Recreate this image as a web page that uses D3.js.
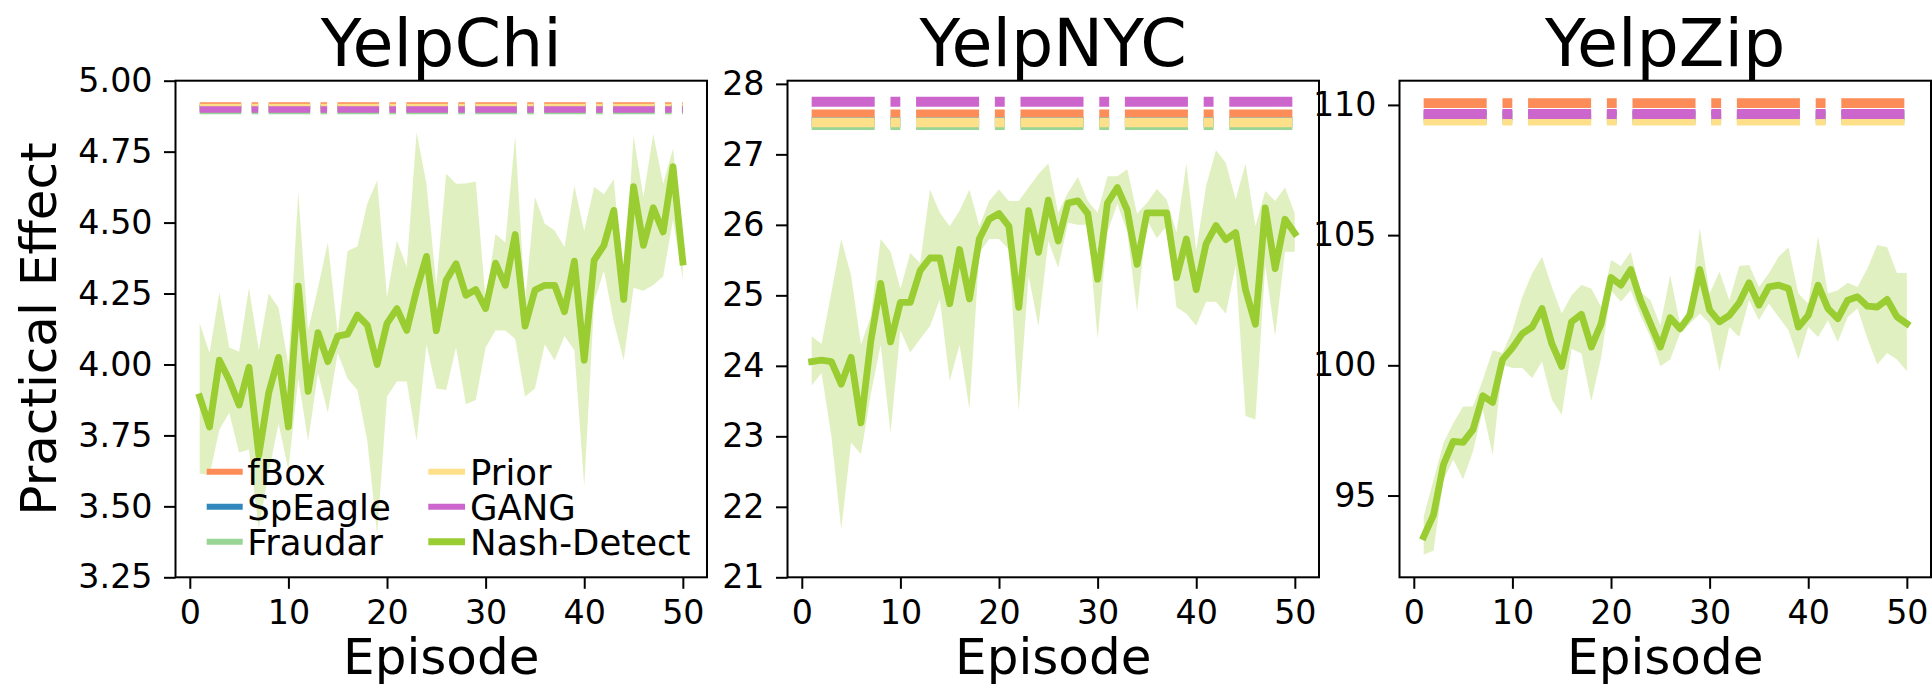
<!DOCTYPE html>
<html>
<head>
<meta charset="utf-8">
<script src="https://cdn.jsdelivr.net/npm/d3@7"></script>
<style>
  html, body { margin: 0; padding: 0; background: #fff; }
  text { font-family: "DejaVu Sans", sans-serif; fill: #000; }
</style>
</head>
<body>
<svg id="chart" width="1932" height="692"></svg>
<script>
// ---------------- DATA ----------------
const datasets = ["YelpChi", "YelpNYC", "YelpZip"];
const baselineNames = ["fBox", "SpEagle", "Fraudar", "Prior", "GANG"];
const methodNames = ["fBox", "SpEagle", "Fraudar", "Prior", "GANG", "Nash-Detect"];

const chiMean = [3.886,3.78,4.015,3.945,3.857,3.99,3.68,3.90,4.025,3.78,4.276,3.905,4.112,4.01,4.10,4.107,4.174,4.139,4.00,4.145,4.197,4.12,4.262,4.381,4.119,4.297,4.355,4.244,4.264,4.197,4.357,4.279,4.458,4.135,4.262,4.279,4.279,4.186,4.364,4.015,4.367,4.42,4.543,4.229,4.627,4.42,4.552,4.467,4.697,4.361];
const chiUpper = [4.145,4.04,4.254,4.06,4.045,4.27,4.05,4.25,4.20,4.00,4.607,4.12,4.27,4.43,4.11,4.40,4.416,4.567,4.648,4.238,4.437,4.344,4.818,4.637,4.28,4.672,4.637,4.638,4.645,4.226,4.46,4.43,4.806,4.22,4.59,4.496,4.472,4.414,4.63,4.47,4.625,4.60,4.654,4.25,4.806,4.59,4.812,4.637,4.76,4.455];
const chiLower = [3.616,3.61,3.77,3.83,3.69,3.70,3.42,3.62,3.79,3.63,3.95,3.73,3.97,3.83,4.04,3.95,3.91,3.73,3.40,3.886,3.94,3.94,3.73,4.07,3.915,3.91,4.06,3.86,3.875,4.06,4.12,4.12,4.09,3.886,3.915,4.07,4.015,4.10,4.05,3.57,4.22,4.33,4.15,4.015,4.27,4.26,4.28,4.31,4.51,4.30];
const chiBase = [4.9127, 4.904, 4.8933, 4.9074, 4.8986];

const nycMean = [24.06,24.08,24.06,23.74,24.12,23.19,24.35,25.17,24.34,24.9,24.9,25.35,25.53,25.53,24.88,25.65,24.95,25.8,26.08,26.16,25.98,24.83,26.2,25.61,26.35,25.77,26.31,26.34,26.16,25.23,26.31,26.53,26.21,25.44,26.17,26.17,26.17,25.25,25.8,25.08,25.73,25.99,25.79,25.89,25.08,24.59,26.24,25.38,26.08,25.88];
const nycUpper = [24.42,24.31,25.04,25.8,25.28,24.3,24.7,25.8,25.62,25.09,25.6,25.46,26.5,26.17,25.98,26.2,26.5,25.98,26.34,26.5,26.34,26.34,26.53,26.72,26.87,26.17,26.46,26.68,26.34,26.17,26.69,26.69,26.79,26.16,26.31,26.51,26.36,25.89,26.87,25.64,26.55,27.06,26.88,26.36,26.87,25.98,26.48,26.34,26.53,26.16];
const nycLower = [23.72,23.9,23.0,21.68,22.91,22.75,23.6,24.3,23.05,24.5,24.19,24.38,24.56,24.94,23.79,24.3,23.38,25.6,25.8,25.8,25.65,23.36,25.27,24.56,25.77,25.39,26.03,26.0,26.0,24.38,25.9,26.3,25.9,24.77,26.07,25.81,25.98,24.83,24.74,24.57,24.91,24.91,24.74,25.42,23.29,23.24,25.42,24.42,25.62,25.62];
const nycBase = [27.567, 27.458, 27.416, 27.454, 27.746];

const zipMean = [93.42,94.26,96.18,97.08,97.04,97.53,98.83,98.58,100.22,100.67,101.22,101.47,102.18,100.83,99.96,101.67,101.96,100.7,101.6,103.37,103.08,103.68,102.5,101.6,100.7,101.83,101.41,101.92,103.68,102.12,101.67,101.92,102.4,103.17,102.31,103.01,103.08,102.95,101.47,101.92,103.08,102.18,101.79,102.5,102.63,102.27,102.24,102.53,101.86,101.6];
const zipUpper = [94.19,95.6,97.01,97.78,98.42,98.42,99.45,100.58,100.47,101.35,102.63,103.53,104.17,103.01,101.99,102.69,103.08,102.95,102.24,104.04,103.81,104.36,102.82,102.5,101.54,103.46,101.6,102.24,105.26,102.76,103.59,102.5,103.81,103.85,103.01,103.53,104.17,104.53,102.76,102.37,104.96,102.76,102.88,103.17,103.01,103.72,104.62,104.53,103.55,103.55];
const zipLower = [92.74,92.88,95.6,96.37,95.63,96.69,98.29,96.56,100.03,99.9,99.9,99.51,100.15,98.68,98.1,100.64,100.45,98.62,100.3,102.88,102.44,102.88,101.9,101.09,99.96,100.22,101.22,101.6,101.99,101.6,99.77,101.47,101.09,102.5,101.73,102.37,101.86,101.35,100.22,101.47,101.09,101.73,100.9,101.86,102.18,101.03,100.03,100.47,100.22,99.77];
const zipBase = [110.07, 109.6, 109.45, 109.40, 109.65];

const xTicks = [0, 10, 20, 30, 40, 50];
const chiTicks = [3.25, 3.50, 3.75, 4.00, 4.25, 4.50, 4.75, 5.00];
const nycTicks = [21, 22, 23, 24, 25, 26, 27, 28];
const zipTicks = [95, 100, 105, 110];

const episodes = d3.range(1, 51);

// ---------------- STYLE ----------------
const colors = {
  "fBox": "#fc8d59", "SpEagle": "#3288bd", "Fraudar": "#99d594",
  "Prior": "#fee08b", "GANG": "#cc66cc", "Nash-Detect": "#9acd32"
};

const TOP = 80.7, BOTTOM = 577.3, PW = 531.5;
const panels = [
  { title: datasets[0], left: 175.5, ydom: [3.25, 5.0], ticks: chiTicks, fmt: d3.format(".2f"),
    mean: chiMean, upper: chiUpper, lower: chiLower, base: chiBase, lw: 6.5, legend: true, ylabel: true },
  { title: datasets[1], left: 787.5, ydom: [21, 28.045], ticks: nycTicks, fmt: d3.format("d"),
    mean: nycMean, upper: nycUpper, lower: nycLower, base: nycBase, lw: 9.85 },
  { title: datasets[2], left: 1399.5, ydom: [91.86, 110.93], ticks: zipTicks, fmt: d3.format("d"),
    mean: zipMean, upper: zipUpper, lower: zipLower, base: zipBase, lw: 9.85 }
];

const svg = d3.select("#chart");
const TICK_FS = 33.3, LEGEND_FS = 35.5, LABEL_FS = 50, TITLE_FS = 66.7;

panels.forEach((p, pi) => {
  const x = d3.scaleLinear().domain([-1.45, 52.45]).range([p.left, p.left + PW]);
  const y = d3.scaleLinear().domain(p.ydom).range([BOTTOM, TOP]);
  const g = svg.append("g");
  const clipId = "clip" + pi;
  svg.append("clipPath").attr("id", clipId).append("rect")
    .attr("x", p.left).attr("y", TOP).attr("width", PW).attr("height", BOTTOM - TOP);
  const plot = g.append("g").attr("clip-path", `url(#${clipId})`);

  // std band
  const area = d3.area()
    .x((d, i) => x(episodes[i]))
    .y0((d, i) => y(p.lower[i]))
    .y1((d, i) => y(p.upper[i]));
  plot.append("path").datum(p.mean).attr("d", area)
    .attr("fill", colors["Nash-Detect"]).attr("fill-opacity", 0.3).attr("stroke", "none");

  // baselines (dash-dot)
  const dash = [6.4, 1.6, 1, 1.6].map(v => v * p.lw).join(",");
  baselineNames.forEach((name, i) => {
    plot.append("line")
      .attr("x1", x(episodes[0])).attr("x2", x(episodes[episodes.length - 1]))
      .attr("y1", y(p.base[i])).attr("y2", y(p.base[i]))
      .attr("stroke", colors[name]).attr("stroke-width", p.lw)
      .attr("stroke-dasharray", dash).attr("stroke-linecap", "butt");
  });

  // Nash-Detect mean line
  const line = d3.line().x((d, i) => x(episodes[i])).y(d => y(d));
  plot.append("path").datum(p.mean).attr("d", line)
    .attr("fill", "none").attr("stroke", colors["Nash-Detect"])
    .attr("stroke-width", 6.8).attr("stroke-linejoin", "round").attr("stroke-linecap", "square");

  // axes
  const xAxis = d3.axisBottom(x).tickValues(xTicks).tickSize(11.5).tickPadding(11.6).tickFormat(d3.format("d"));
  const gx = g.append("g").attr("transform", `translate(0,${BOTTOM})`).call(xAxis);
  const yAxis = d3.axisLeft(y).tickValues(p.ticks).tickSize(11.5).tickPadding(11.5).tickFormat(p.fmt);
  const gy = g.append("g").attr("transform", `translate(${p.left},0)`).call(yAxis);
  [gx, gy].forEach(ax => {
    ax.select(".domain").remove();
    ax.selectAll(".tick line").attr("stroke", "#000").attr("stroke-width", 2);
    ax.selectAll(".tick text").attr("font-size", TICK_FS).attr("font-family", "DejaVu Sans").attr("fill", "#000");
  });

  // frame
  g.append("rect").attr("x", p.left).attr("y", TOP).attr("width", PW).attr("height", BOTTOM - TOP)
    .attr("fill", "none").attr("stroke", "#000").attr("stroke-width", 2);

  // title
  g.append("text").attr("x", p.left + PW / 2).attr("y", 66)
    .attr("text-anchor", "middle").attr("font-size", TITLE_FS).text(p.title);
  // x label
  g.append("text").attr("x", p.left + PW / 2).attr("y", 674)
    .attr("text-anchor", "middle").attr("font-size", LABEL_FS).text("Episode");

  if (p.ylabel) {
    g.append("text").attr("transform", `translate(56,${(TOP + BOTTOM) / 2}) rotate(-90)`)
      .attr("text-anchor", "middle").attr("font-size", LABEL_FS).text("Practical Effect");
  }

  if (p.legend) {
    const lg = g.append("g");
    const colX = [[206.7, 242.7, 247.3], [428.3, 465, 470]];
    const rowY = [471.7, 506.7, 541.7];
    methodNames.forEach((name, i) => {
      const c = Math.floor(i / 3), r = i % 3;
      lg.append("line").attr("x1", colX[c][0]).attr("x2", colX[c][1])
        .attr("y1", rowY[r]).attr("y2", rowY[r])
        .attr("stroke", colors[name]).attr("stroke-width", name === "Nash-Detect" ? 7 : 6);
      lg.append("text").attr("x", colX[c][2]).attr("y", rowY[r] + 12.8)
        .attr("font-size", LEGEND_FS).text(name);
    });
  }
});
</script>
</body>
</html>
